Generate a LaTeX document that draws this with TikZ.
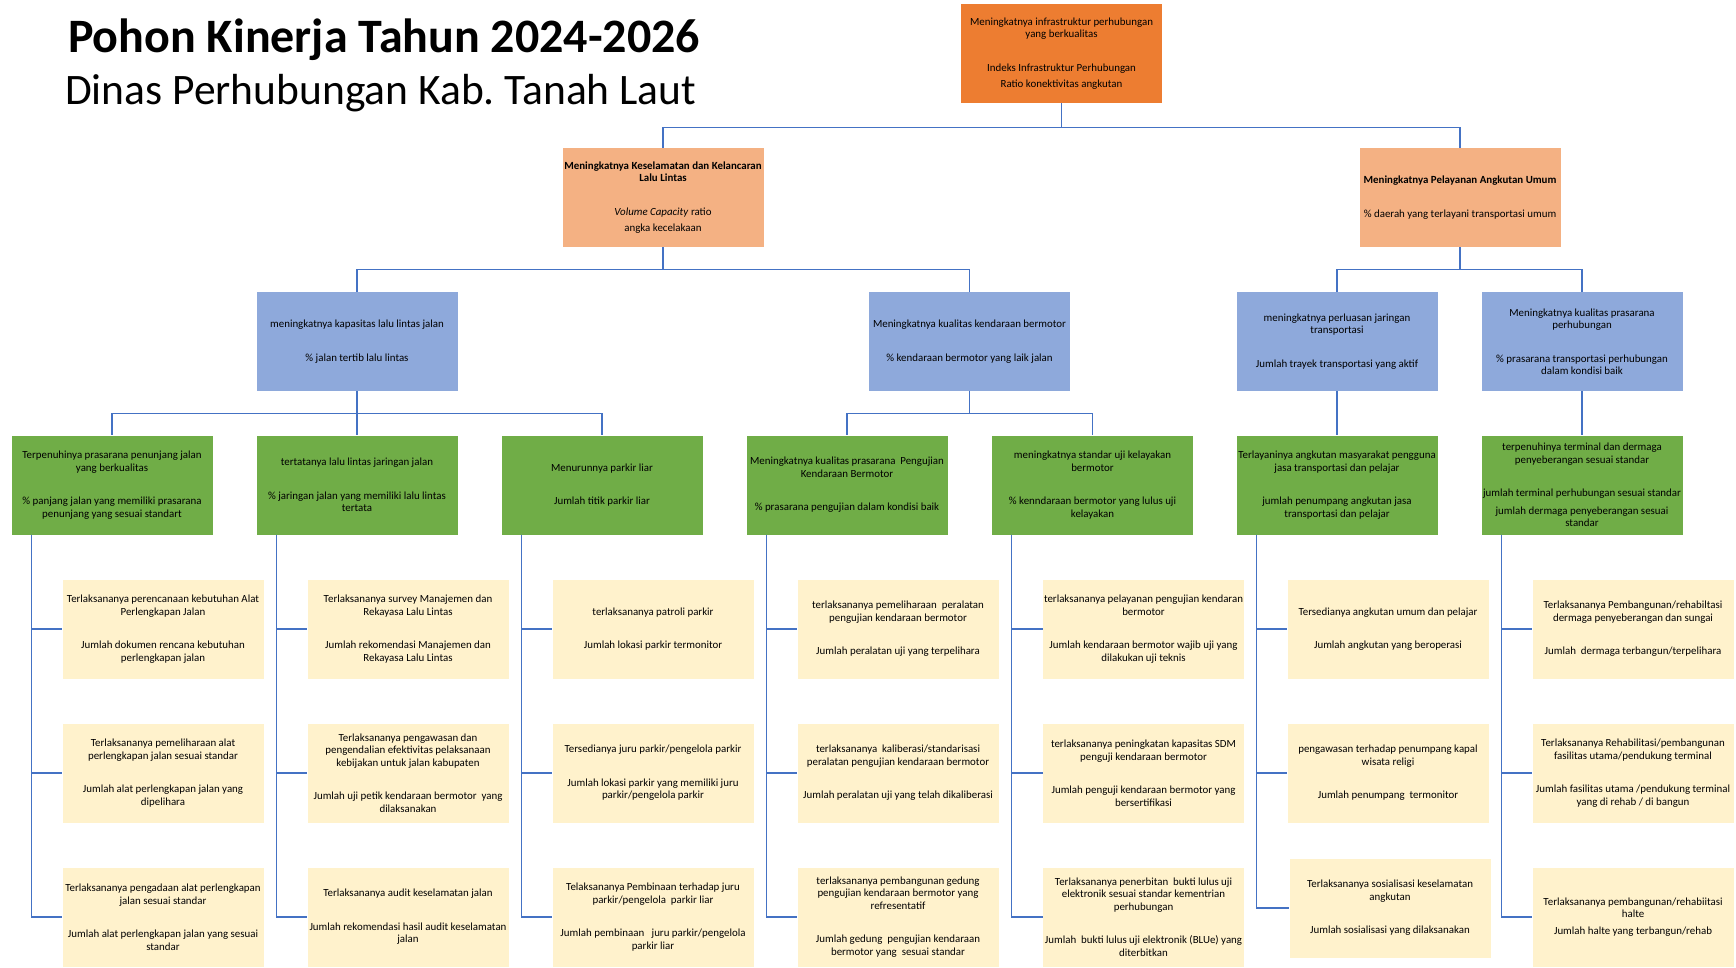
\documentclass[tikz,border=0pt]{standalone}
\usepackage{fontspec}
\setmainfont{Carlito}
\usepackage{tikz}
\usetikzlibrary{positioning}
\definecolor{kinOrange}{HTML}{ED7D31}
\definecolor{kinPeach}{HTML}{F4B183}
\definecolor{kinBlue}{HTML}{8EA9DB}
\definecolor{kinGreen}{HTML}{70AD47}
\definecolor{kinCream}{HTML}{FFF2CC}
\definecolor{kinLine}{HTML}{4472C4}
\frenchspacing

\begin{document}
\begin{tikzpicture}[x=1pt, y=-1pt,
    box/.style={minimum width=201pt, minimum height=99pt, inner sep=1pt, align=center, font=\fontsize{10.9}{12.5}\selectfont},
    tujuan/.style={box, fill=kinOrange},
    sasaran/.style={box, fill=kinPeach},
    program/.style={box, fill=kinBlue},
    kegiatan/.style={box, fill=kinGreen},
    subkeg/.style={box, fill=kinCream},
    conn/.style={draw=kinLine, line width=1.1pt}]
    \useasboundingbox (0,0) rectangle (1736,967);

    % judul
    \node[anchor=base west, inner sep=0pt, font=\fontsize{48}{52}\selectfont\bfseries] at (68, 52) (judul) {Pohon Kinerja Tahun 2024-2026};
    \node[anchor=base west, inner sep=0pt, font=\fontsize{43.5}{47}\selectfont] at (65, 104) (dinas) {Dinas Perhubungan Kab. Tanah Laut};

    % tujuan dan sasaran
    \node[tujuan] at (1061.5, 53.5) (tj) {Meningkatnya infrastruktur perhubungan\\yang berkualitas\\[21pt]Indeks Infrastruktur Perhubungan\\[4pt]Ratio konektivitas angkutan};
    \node[sasaran] at (663, 197.5) (sk) {\textbf{Meningkatnya Keselamatan dan Kelancaran}\\\textbf{Lalu Lintas}\\[21pt]\textit{Volume Capacity} ratio\\[4pt]angka kecelakaan};
    \node[sasaran] at (1460, 197.5) (sp) {\textbf{Meningkatnya Pelayanan Angkutan Umum}\\[21pt]\% daerah yang terlayani transportasi umum};

    % program
    \node[program] at (357, 341.5) (pa) {meningkatnya kapasitas lalu lintas jalan\\[21pt]\% jalan tertib lalu lintas};
    \node[program] at (969.5, 341.5) (pb) {Meningkatnya kualitas kendaraan bermotor\\[21pt]\% kendaraan bermotor yang laik jalan};
    \node[program] at (1337, 341.5) (pc) {meningkatnya perluasan jaringan\\transportasi\\[21pt]Jumlah trayek transportasi yang aktif};
    \node[program] at (1582, 341.5) (pd) {Meningkatnya kualitas prasarana\\perhubungan\\[21pt]\% prasarana transportasi perhubungan\\dalam kondisi baik};

    % kegiatan
    \node[kegiatan] at (112, 485) (k1) {Terpenuhinya prasarana penunjang jalan\\yang berkualitas\\[21pt]\% panjang jalan yang memiliki prasarana\\penunjang yang sesuai standart};
    \node[kegiatan] at (357, 485) (k2) {tertatanya lalu lintas jaringan jalan\\[21pt]\% jaringan jalan yang memiliki lalu lintas\\tertata};
    \node[kegiatan] at (602, 485) (k3) {Menurunnya parkir liar\\[21pt]Jumlah titik parkir liar};
    \node[kegiatan] at (847, 485) (k4) {Meningkatnya kualitas prasarana~ Pengujian\\Kendaraan Bermotor\\[21pt]\% prasarana pengujian dalam kondisi baik};
    \node[kegiatan] at (1092.5, 485) (k5) {meningkatnya standar uji kelayakan\\bermotor\\[21pt]\% kenndaraan bermotor yang lulus uji\\kelayakan};
    \node[kegiatan] at (1337, 485) (k6) {Terlayaninya angkutan masyarakat pengguna\\jasa transportasi dan pelajar\\[21pt]jumlah penumpang angkutan jasa\\transportasi dan pelajar};
    \node[kegiatan] at (1582, 485) (k7) {terpenuhinya terminal dan dermaga\\penyeberangan sesuai standar\\[21pt]jumlah terminal perhubungan sesuai standar\\[5pt]jumlah dermaga penyeberangan sesuai\\standar};

    % sub kegiatan
    \node[subkeg] at (163, 629) (s11) {Terlaksananya perencanaan kebutuhan Alat\\Perlengkapan Jalan\\[21pt]Jumlah dokumen rencana kebutuhan\\perlengkapan jalan};
    \node[subkeg] at (163, 773) (s12) {Terlaksananya pemeliharaan alat\\perlengkapan jalan sesuai standar\\[21pt]Jumlah alat perlengkapan jalan yang\\dipelihara};
    \node[subkeg] at (163, 917) (s13) {Terlaksananya pengadaan alat perlengkapan\\jalan sesuai standar\\[21pt]Jumlah alat perlengkapan jalan yang sesuai\\standar};

    \node[subkeg] at (408, 629) (s21) {Terlaksananya survey Manajemen dan\\Rekayasa Lalu Lintas\\[21pt]Jumlah rekomendasi Manajemen dan\\Rekayasa Lalu Lintas};
    \node[subkeg] at (408, 773) (s22) {Terlaksananya pengawasan dan\\pengendalian efektivitas pelaksanaan\\kebijakan untuk jalan kabupaten\\[21pt]Jumlah uji petik kendaraan bermotor~ yang\\dilaksanakan};
    \node[subkeg] at (408, 917) (s23) {Terlaksananya audit keselamatan jalan\\[21pt]Jumlah rekomendasi hasil audit keselamatan\\jalan};

    \node[subkeg] at (653, 629) (s31) {terlaksananya patroli parkir\\[21pt]Jumlah lokasi parkir termonitor};
    \node[subkeg] at (653, 773) (s32) {Tersedianya juru parkir/pengelola parkir\\[21pt]Jumlah lokasi parkir yang memiliki juru\\parkir/pengelola parkir};
    \node[subkeg] at (653, 917) (s33) {Telaksananya Pembinaan terhadap juru\\parkir/pengelola~ parkir liar\\[21pt]Jumlah pembinaan~ ~juru parkir/pengelola\\parkir liar};

    \node[subkeg] at (898, 629) (s41) {terlaksananya pemeliharaan~ peralatan\\pengujian kendaraan bermotor\\[21pt]Jumlah peralatan uji yang terpelihara};
    \node[subkeg] at (898, 773) (s42) {terlaksananya~ kaliberasi/standarisasi\\peralatan pengujian kendaraan bermotor\\[21pt]Jumlah peralatan uji yang telah dikaliberasi};
    \node[subkeg] at (898, 917) (s43) {terlaksananya pembangunan gedung\\pengujian kendaraan bermotor yang\\refresentatif\\[21pt]Jumlah gedung~ pengujian kendaraan\\bermotor yang~ sesuai standar};

    \node[subkeg] at (1143.5, 629) (s51) {terlaksananya pelayanan pengujian kendaran\\bermotor\\[21pt]Jumlah kendaraan bermotor wajib uji yang\\dilakukan uji teknis};
    \node[subkeg] at (1143.5, 773) (s52) {terlaksananya peningkatan kapasitas SDM\\penguji kendaraan bermotor\\[21pt]Jumlah penguji kendaraan bermotor yang\\bersertifikasi};
    \node[subkeg] at (1143.5, 917) (s53) {Terlaksananya penerbitan~ bukti lulus uji\\elektronik sesuai standar kementrian\\perhubungan\\[21pt]Jumlah~ bukti lulus uji elektronik (BLUe) yang\\diterbitkan};

    \node[subkeg] at (1388, 629) (s61) {Tersedianya angkutan umum dan pelajar\\[21pt]Jumlah angkutan yang beroperasi};
    \node[subkeg] at (1388, 773) (s62) {pengawasan terhadap penumpang kapal\\wisata religi\\[21pt]Jumlah penumpang~ termonitor};
    \node[subkeg] at (1390, 908) (s63) {Terlaksananya sosialisasi keselamatan\\angkutan\\[21pt]Jumlah sosialisasi yang dilaksanakan};

    \node[subkeg] at (1633, 629) (s71) {Terlaksananya Pembangunan/rehabiltasi\\dermaga penyeberangan dan sungai\\[21pt]Jumlah~ dermaga terbangun/terpelihara};
    \node[subkeg] at (1633, 773) (s72) {Terlaksananya Rehabilitasi/pembangunan\\fasilitas utama/pendukung terminal\\[21pt]Jumlah fasilitas utama /pendukung terminal\\yang di rehab / di bangun};
    \node[subkeg] at (1633, 917) (s73) {Terlaksananya pembangunan/rehabiitasi\\halte\\[4pt]Jumlah halte yang terbangun/rehab};

    % garis hubung
    \draw[conn] (tj.south) -- ++(0,24) -| (sk.north);
    \draw[conn] (tj.south) -- ++(0,24) -| (sp.north);
    \draw[conn] (sk.south) -- ++(0,22) -| (pa.north);
    \draw[conn] (sk.south) -- ++(0,22) -| (pb.north);
    \draw[conn] (sp.south) -- ++(0,22) -| (pc.north);
    \draw[conn] (sp.south) -- ++(0,22) -| (pd.north);
    \draw[conn] (pa.south) -- ++(0,22) -| (k1.north);
    \draw[conn] (pa.south) -- ++(0,22) -| (k3.north);
    \draw[conn] (pa.south) -- (k2.north);
    \draw[conn] (pb.south) -- ++(0,22) -| (k4.north);
    \draw[conn] (pb.south) -- ++(0,22) -| (k5.north);
    \draw[conn] (pc.south) -- (k6.north);
    \draw[conn] (pd.south) -- (k7.north);

    \draw[conn] ([xshift=20pt]k1.south west) |- (s11.west);
    \draw[conn] ([xshift=20pt]k1.south west) |- (s12.west);
    \draw[conn] ([xshift=20pt]k1.south west) |- (s13.west);
    \draw[conn] ([xshift=20pt]k2.south west) |- (s21.west);
    \draw[conn] ([xshift=20pt]k2.south west) |- (s22.west);
    \draw[conn] ([xshift=20pt]k2.south west) |- (s23.west);
    \draw[conn] ([xshift=20pt]k3.south west) |- (s31.west);
    \draw[conn] ([xshift=20pt]k3.south west) |- (s32.west);
    \draw[conn] ([xshift=20pt]k3.south west) |- (s33.west);
    \draw[conn] ([xshift=20pt]k4.south west) |- (s41.west);
    \draw[conn] ([xshift=20pt]k4.south west) |- (s42.west);
    \draw[conn] ([xshift=20pt]k4.south west) |- (s43.west);
    \draw[conn] ([xshift=20pt]k5.south west) |- (s51.west);
    \draw[conn] ([xshift=20pt]k5.south west) |- (s52.west);
    \draw[conn] ([xshift=20pt]k5.south west) |- (s53.west);
    \draw[conn] ([xshift=20pt]k6.south west) |- (s61.west);
    \draw[conn] ([xshift=20pt]k6.south west) |- (s62.west);
    \draw[conn] ([xshift=20pt]k6.south west) |- (s63.west);
    \draw[conn] ([xshift=20pt]k7.south west) |- (s71.west);
    \draw[conn] ([xshift=20pt]k7.south west) |- (s72.west);
    \draw[conn] ([xshift=20pt]k7.south west) |- (s73.west);
\end{tikzpicture}
\end{document}
